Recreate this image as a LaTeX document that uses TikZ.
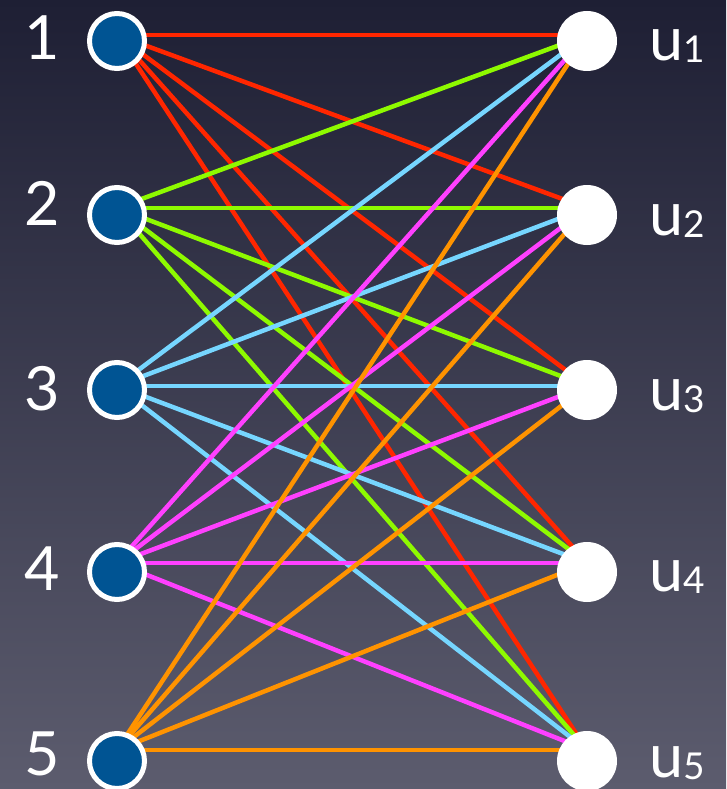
\documentclass[tikz,border=0pt]{standalone}
\usepackage{fontspec}
\setmainfont{Lato}
\definecolor{bgtop}{RGB}{30,31,52}
\definecolor{bgbot}{RGB}{92,92,110}
\definecolor{dotblue}{RGB}{0,84,147}
\definecolor{cA}{RGB}{255,38,0}
\definecolor{cB}{RGB}{142,250,0}
\definecolor{cC}{RGB}{118,214,255}
\definecolor{cD}{RGB}{255,64,255}
\definecolor{cE}{RGB}{255,147,0}
\newcommand{\usub}[1]{{\fontsize{37}{37}\selectfont\raisebox{-2pt}{#1}}}
\begin{document}
\begin{tikzpicture}[x=1pt,y=-1pt,
  edge/.style={line width=4.5pt},
  lnode/.style={circle,draw=white,line width=5pt,fill=dotblue,inner sep=0pt,minimum size=55pt},
  rnode/.style={circle,fill=white,inner sep=0pt,minimum size=60pt},
  lab/.style={text=white,inner sep=0pt,font=\fontsize{61}{61}\selectfont}]
  % background
  \useasboundingbox (0,0) rectangle (726,789);
  \shade[top color=bgtop,bottom color=bgbot] (0,0) rectangle (726,789);

  % ports where the edges meet the nodes
  \foreach \k/\y in {1/35,2/208,3/386,4/563,5/750}{
    \coordinate (lp\k) at (117,\y);
    \coordinate (rp\k) at (587,\y);
  }

  % complete bipartite edges, one colour per left vertex
  \foreach \i/\c in {1/cA,2/cB,3/cC,4/cD,5/cE}{
    \foreach \j in {1,...,5}{
      \draw[edge,\c] (lp\i) -- (rp\j);
    }
  }

  % vertices
  \foreach \k/\y in {1/41,2/215,3/390,4/572,5/761}{
    \node[lnode] (l\k) at (117,\y) {};
    \node[rnode] (r\k) at (587,\y) {};
  }

  % labels
  \node[lab,anchor=base] (t1) at (42,60) {1};
  \node[lab,anchor=base] (t2) at (42,225) {2};
  \node[lab,anchor=base] (t3) at (42,410) {3};
  \node[lab,anchor=base] (t4) at (42,590) {4};
  \node[lab,anchor=base] (t5) at (42,775) {5};
  \node[lab,anchor=base west] (u1) at (649,61) {u\usub{1}};
  \node[lab,anchor=base west] (u2) at (649,235) {u\usub{2}};
  \node[lab,anchor=base west] (u3) at (649,410) {u\usub{3}};
  \node[lab,anchor=base west] (u4) at (649,591) {u\usub{4}};
  \node[lab,anchor=base west] (u5) at (649,777) {u\usub{5}};
\end{tikzpicture}
\end{document}
